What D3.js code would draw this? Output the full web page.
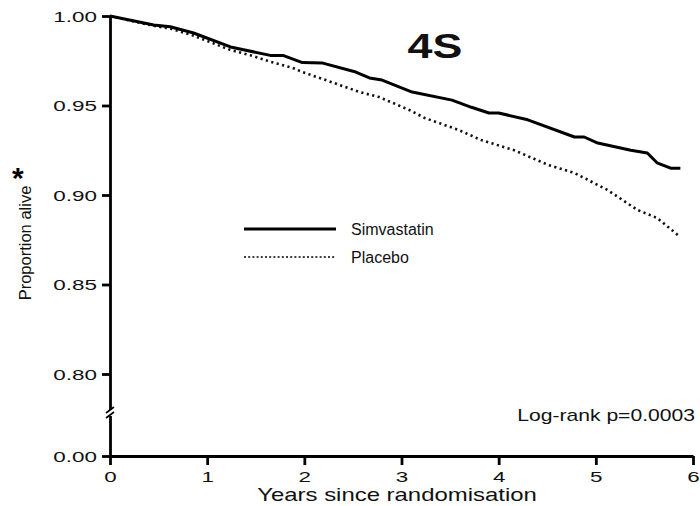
<!DOCTYPE html>
<html>
<head>
<meta charset="utf-8">
<script src="https://cdn.jsdelivr.net/npm/d3@7"></script>
<style>
  body { margin: 0; background: #fff; }
  svg { display: block; }
  .axis path, .axis line { stroke: #000; stroke-width: 2.8; }
  .axis text { font-family: "Liberation Sans", Arial, sans-serif; fill: #111; }
</style>
</head>
<body>
<div id="chart"></div>
<script>
// Kaplan-Meier estimates
const simvYears = [0, 0.45, 0.62, 0.86, 1.24, 1.65, 1.78, 1.98, 2.19, 2.53, 2.67, 2.80, 3.11, 3.52, 3.72, 3.90, 4.00, 4.30, 4.78, 4.88, 5.02, 5.36, 5.53, 5.63, 5.77, 5.87];
const simvAlive = [1.000, 0.995, 0.994, 0.9905, 0.9827, 0.978, 0.978, 0.974, 0.9737, 0.9687, 0.9654, 0.9642, 0.9575, 0.953, 0.949, 0.9458, 0.9458, 0.942, 0.9324, 0.9324, 0.929, 0.925, 0.9235, 0.918, 0.915, 0.915];
const placYears = [0, 0.45, 0.62, 0.86, 1.24, 1.45, 1.65, 1.88, 1.98, 2.22, 2.57, 2.77, 3.08, 3.24, 3.59, 3.82, 4.16, 4.51, 4.78, 5.12, 5.43, 5.63, 5.87];
const placAlive = [1.000, 0.9945, 0.993, 0.989, 0.981, 0.978, 0.9745, 0.971, 0.9687, 0.9642, 0.9575, 0.9547, 0.9475, 0.943, 0.9363, 0.9307, 0.925, 0.9168, 0.9123, 0.9028, 0.8916, 0.8872, 0.8765];

const xTicks = [0, 1, 2, 3, 4, 5, 6];
const yTicks = [0, 0.80, 0.85, 0.90, 0.95, 1.00];

const W = 700, H = 506;

const svg = d3.select("#chart").append("svg")
  .attr("width", W)
  .attr("height", H);

svg.append("rect").attr("width", W).attr("height", H).attr("fill", "#fff");

// scales (y is broken between 0 and 0.80)
const x = d3.scaleLinear().domain([0, 6]).range([110, 693]);
const y = d3.scaleLinear().domain([0, 0.8, 1.0]).range([456, 374, 16]);

// y axis
const yAxis = svg.append("g")
  .attr("class", "axis y-axis")
  .attr("transform", "translate(" + x(0) + ",0)")
  .call(d3.axisLeft(y).tickValues(yTicks).tickFormat(d3.format(".2f")).tickSize(8).tickSizeOuter(0));
yAxis.selectAll("text")
  .attr("x", 0)
  .attr("dy", "0.36em")
  .attr("font-size", 14.5)
  .attr("transform", "translate(-13,0) scale(1.55,1)");

// axis break
const yb = 413;
svg.append("rect")
  .attr("x", x(0) - 4).attr("y", yb - 3)
  .attr("width", 8).attr("height", 6)
  .attr("fill", "#fff");
[-3, 2].forEach(off => {
  svg.append("line")
    .attr("x1", x(0) - 4).attr("y1", yb + off + 3)
    .attr("x2", x(0) + 4).attr("y2", yb + off - 3)
    .attr("stroke", "#000").attr("stroke-width", 1.6);
});

// x axis
const xAxis = svg.append("g")
  .attr("class", "axis x-axis")
  .attr("transform", "translate(0," + y(0) + ")")
  .call(d3.axisBottom(x).tickValues(xTicks).tickFormat(d3.format("d")).tickSize(9).tickSizeOuter(0));
xAxis.selectAll("text")
  .attr("y", 0)
  .attr("dy", 0)
  .attr("font-size", 14)
  .attr("transform", "translate(0,26) scale(1.6,1)");

// curves
const line = d3.line()
  .x(d => x(d[0]))
  .y(d => y(d[1]));

const simv = simvYears.map((t, i) => [t, simvAlive[i]]);
const plac = placYears.map((t, i) => [t, placAlive[i]]);

svg.append("path")
  .datum(plac)
  .attr("fill", "none")
  .attr("stroke", "#111")
  .attr("stroke-width", 2.6)
  .attr("stroke-dasharray", "2.2,3.4")
  .attr("d", line);

svg.append("path")
  .datum(simv)
  .attr("fill", "none")
  .attr("stroke", "#000")
  .attr("stroke-width", 3)
  .attr("stroke-linejoin", "round")
  .attr("d", line);

// labels
function label(txt, px, py, size, sx, anchor, weight) {
  svg.append("g")
    .attr("transform", "translate(" + px + "," + py + ") scale(" + sx + ",1)")
    .append("text")
    .attr("text-anchor", anchor || "start")
    .attr("font-family", "'Liberation Sans', Arial, sans-serif")
    .attr("font-size", size)
    .attr("font-weight", weight || "normal")
    .attr("fill", "#111")
    .text(txt);
}

label("Years since randomisation", 397, 501, 18, 1.33, "middle");
label("4S", 435, 58, 35, 1.28, "middle", "bold");
label("Log-rank p=0.0003", 695, 421, 16, 1.32, "end");

svg.append("text")
  .attr("transform", "translate(31,243) rotate(-90)")
  .attr("text-anchor", "middle")
  .attr("font-family", "'Liberation Sans', Arial, sans-serif")
  .attr("font-size", 16.5)
  .attr("fill", "#111")
  .text("Proportion alive");
svg.append("text")
  .attr("x", 12).attr("y", 188)
  .attr("font-family", "'Liberation Sans', Arial, sans-serif")
  .attr("font-size", 30)
  .attr("font-weight", "bold")
  .attr("fill", "#000")
  .text("*");

// legend
const legend = [
  {name: "Simvastatin", dash: null, width: 2.8, y: 229},
  {name: "Placebo", dash: "2,2.2", width: 1.6, y: 257}
];
legend.forEach(d => {
  svg.append("line")
    .attr("x1", 244).attr("x2", 336)
    .attr("y1", d.y).attr("y2", d.y)
    .attr("stroke", "#000")
    .attr("stroke-width", d.width)
    .attr("stroke-dasharray", d.dash);
  svg.append("text")
    .attr("x", 351).attr("y", d.y + 6)
    .attr("font-family", "'Liberation Sans', Arial, sans-serif")
    .attr("font-size", 16)
    .attr("fill", "#111")
    .text(d.name);
});
</script>
</body>
</html>
